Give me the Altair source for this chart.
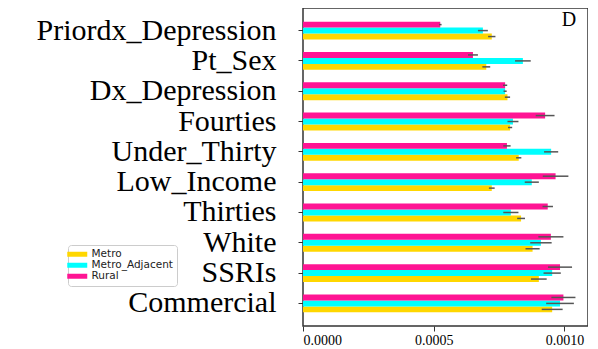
import altair as alt
import pandas as pd

categories = ["Priordx_Depression", "Pt_Sex", "Dx_Depression", "Fourties", "Under_Thirty",
              "Low_Income", "Thirties", "White", "SSRIs", "Commercial"]
series = ["Metro", "Metro_Adjacent", "Rural"]
colors = ["#FFD700", "#00FFFF", "#FF1493"]

metro = [0.000722, 0.000701, 0.000782, 0.000792, 0.000825, 0.000722, 0.000834, 0.000878, 0.000902, 0.000953]
metro_adj = [0.000688, 0.000841, 0.000773, 0.000803, 0.000949, 0.000875, 0.000795, 0.000910, 0.000953, 0.000983]
rural = [0.000525, 0.000650, 0.000773, 0.000926, 0.000780, 0.000966, 0.000936, 0.000948, 0.000983, 0.000996]

metro_err = [0.000014, 0.000015, 0.000010, 0.000008, 0.000010, 0.000011, 0.000015, 0.000027, 0.000030, 0.000040]
metro_adj_err = [0.000019, 0.000030, 0.000006, 0.000021, 0.000027, 0.000027, 0.000029, 0.000041, 0.000033, 0.000053]
rural_err = [0.000005, 0.000019, 0.000008, 0.000036, 0.000014, 0.000049, 0.000020, 0.000048, 0.000046, 0.000046]

rows = []
for s, vals, errs in zip(series, [metro, metro_adj, rural], [metro_err, metro_adj_err, rural_err]):
    for c, v, e in zip(categories, vals, errs):
        rows.append({"feature": c, "group": s, "value": v, "lo": v - e, "hi": v + e})
df = pd.DataFrame(rows)

SERIF = "Liberation Serif"

y_enc = alt.Y("feature:N", sort=categories,
              scale=alt.Scale(paddingInner=0.41, paddingOuter=0.45),
              axis=alt.Axis(title=None, labelFont=SERIF, labelFontSize=30,
                            labelColor="black", labelPadding=22, tickSize=5, tickColor="#333",
                            domain=False, labelLimit=400))
yoff = alt.YOffset("group:N", sort=["Rural", "Metro_Adjacent", "Metro"],
                   scale=alt.Scale(paddingInner=0, paddingOuter=0))
x_enc = alt.X("value:Q", scale=alt.Scale(domain=[0, 0.00109], nice=False),
              axis=alt.Axis(title=None, values=[0, 0.0005, 0.001], format=".4f",
                            labelFont=SERIF, labelFontSize=14, labelColor="black",
                            tickSize=5, tickColor="#333", domain=False, grid=False, labelPadding=2))

sym = "M-2,-0.5H2V0.5H-2Z"
bars = alt.Chart(df).mark_bar().encode(
    y=y_enc, yOffset=yoff, x=x_enc,
    color=alt.Color("group:N", scale=alt.Scale(domain=series, range=colors),
                    legend=alt.Legend(title=None, orient="none", legendX=-235, legendY=237,
                                      symbolType=sym, symbolSize=100, symbolStrokeWidth=0,
                                      labelFont="DejaVu Sans", labelFontSize=10.5, labelColor="#222",
                                      labelOffset=9,
                                      fillColor="white", strokeColor="#ccc", cornerRadius=3,
                                      padding=4, rowPadding=0)),
)

errs = alt.Chart(df).mark_rule(color="#555", strokeWidth=1.5).encode(
    y=alt.Y("feature:N", sort=categories), yOffset=yoff,
    x=alt.X("lo:Q"), x2="hi:Q",
)

label = alt.Chart(pd.DataFrame({"t": ["D"]})).mark_text(
    font=SERIF, fontSize=20, color="black", align="center", baseline="middle"
).encode(text="t:N", x=alt.value(266), y=alt.value(12))

chart = alt.layer(bars, errs, label).properties(
    width=285, height=318,
    autosize=alt.AutoSizeParams(type="none"),
    padding={"left": 295, "top": 0, "right": 0, "bottom": 22},
).configure_view(stroke="#333", strokeWidth=1.5)

chart.save("out.html", embed_options={"renderer": "svg", "actions": False})
